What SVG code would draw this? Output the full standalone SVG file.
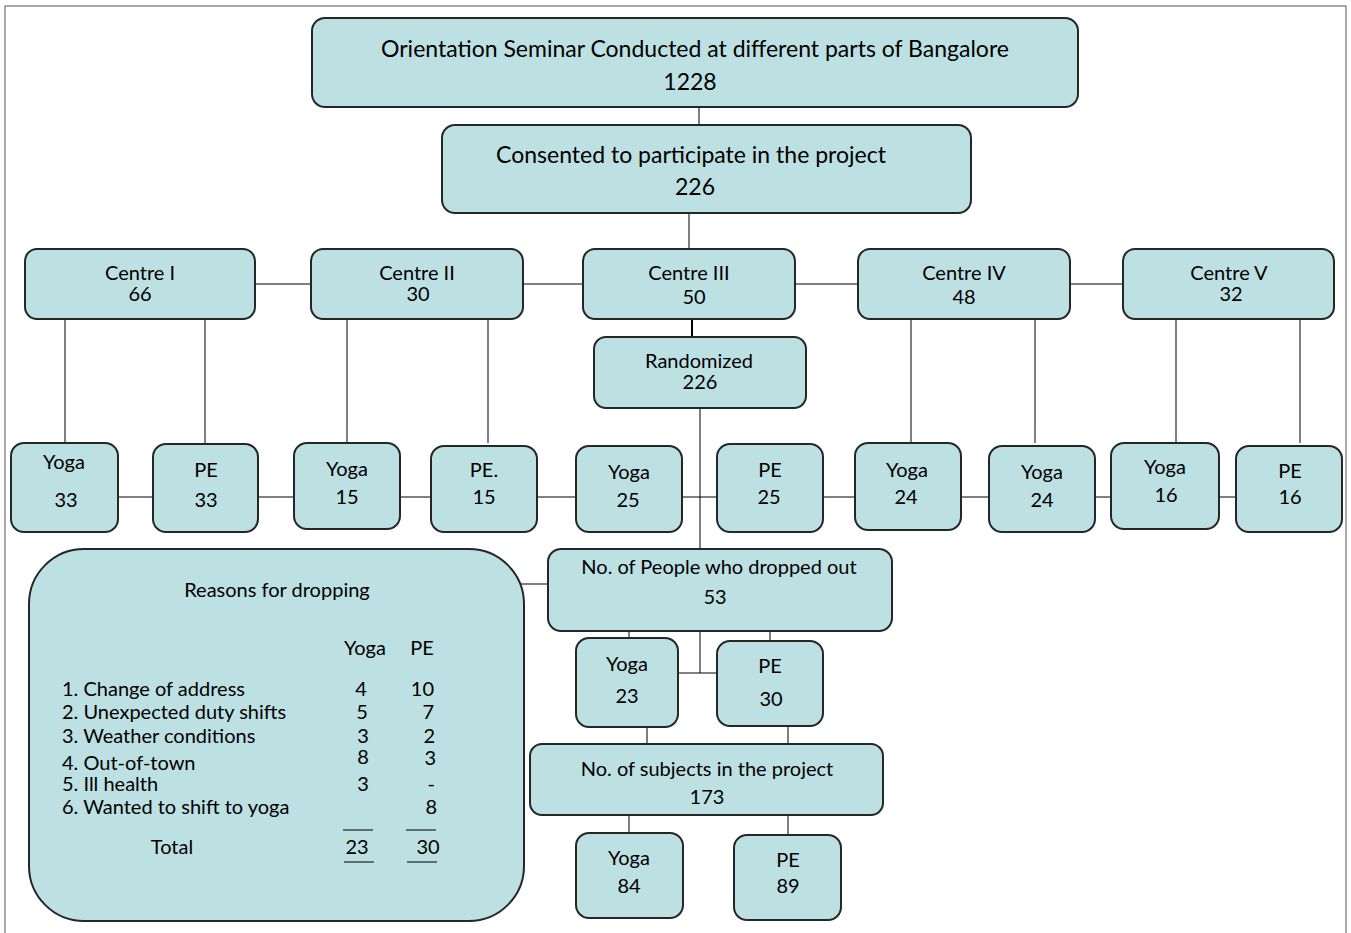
<svg xmlns="http://www.w3.org/2000/svg" width="1351" height="933" viewBox="0 0 1351 933">
<style>
.b{fill:#bde0e3;stroke:#262626;stroke-width:2}
.c{stroke:#000;stroke-width:1;fill:none}
text{font-family:Lato,"Open Sans","Liberation Sans",sans-serif;font-size:20px;fill:#000}
.m{text-anchor:middle}
.e{text-anchor:end}
.L{font-size:23px}
</style>
<rect x="5" y="6" width="1341" height="940" fill="#fff" stroke="#555" stroke-width="1"/>
<g id="connectors" class="c">
<path d="M699 107V125M689 213V249"/>
<path d="M255 284H311M523 284H583M795 284H858M1070 284H1123"/>
<path d="M65 319V443M205 319V444M347 319V443M488 319V443M911 319V443M1035 319V443M1176 319V443M1300 319V443"/>
<path d="M692 319V337" stroke-width="2"/>
<path d="M700 408V549"/>
<path d="M118 497H153M258 497H294M400 497H431M537 497H576M682 497H717M823 497H855M961 497H989M1095 497H1111M1219 497H1236"/>
<path d="M520 584H548"/>
<path d="M629 631V638M770 631V641M700 631V673M678 673H717"/>
<path d="M647 727V744M788 726V744"/>
<path d="M629 815V833M788 815V835"/>
</g>
<g id="n-orientation"><rect class="b" x="312" y="18" width="766" height="89" rx="13"/><text class="m L" x="695" y="57">Orientation Seminar Conducted at different parts of Bangalore</text><text class="m L" x="690" y="90">1228</text></g>
<g id="n-consented"><rect class="b" x="442" y="125" width="529" height="88" rx="13"/><text class="m L" x="691" y="163">Consented to participate in the project</text><text class="m L" x="695" y="195">226</text></g>
<g id="n-c1"><rect class="b" x="25" y="249" width="230" height="70" rx="12"/><text class="m" x="140" y="280">Centre I</text><text class="m" x="140" y="301">66</text></g>
<g id="n-c2"><rect class="b" x="311" y="249" width="212" height="70" rx="12"/><text class="m" x="417" y="280">Centre II</text><text class="m" x="418" y="301">30</text></g>
<g id="n-c3"><rect class="b" x="583" y="249" width="212" height="70" rx="12"/><text class="m" x="689" y="280">Centre III</text><text class="m" x="694" y="304">50</text></g>
<g id="n-c4"><rect class="b" x="858" y="249" width="212" height="70" rx="12"/><text class="m" x="964" y="280">Centre IV</text><text class="m" x="964" y="304">48</text></g>
<g id="n-c5"><rect class="b" x="1123" y="249" width="211" height="70" rx="12"/><text class="m" x="1229" y="280">Centre V</text><text class="m" x="1231" y="301">32</text></g>
<g id="n-rand"><rect class="b" x="594" y="337" width="212" height="71" rx="12"/><text class="m" x="699" y="368">Randomized</text><text class="m" x="700" y="389">226</text></g>
<g id="n-y33"><rect class="b" x="11" y="443" width="107" height="89" rx="13"/><text class="m" x="64" y="469">Yoga</text><text class="m" x="66" y="507">33</text></g>
<g id="n-p33"><rect class="b" x="153" y="444" width="105" height="88" rx="13"/><text class="m" x="206" y="477">PE</text><text class="m" x="206" y="507">33</text></g>
<g id="n-y15"><rect class="b" x="294" y="443" width="106" height="86" rx="13"/><text class="m" x="347" y="476">Yoga</text><text class="m" x="347" y="504">15</text></g>
<g id="n-p15"><rect class="b" x="431" y="446" width="106" height="86" rx="13"/><text class="m" x="484" y="477">PE.</text><text class="m" x="484" y="504">15</text></g>
<g id="n-y25"><rect class="b" x="576" y="446" width="106" height="86" rx="13"/><text class="m" x="629" y="479">Yoga</text><text class="m" x="628" y="507">25</text></g>
<g id="n-p25"><rect class="b" x="717" y="444" width="106" height="88" rx="13"/><text class="m" x="770" y="477">PE</text><text class="m" x="769" y="504">25</text></g>
<g id="n-y24a"><rect class="b" x="855" y="443" width="106" height="87" rx="13"/><text class="m" x="907" y="477">Yoga</text><text class="m" x="906" y="504">24</text></g>
<g id="n-y24b"><rect class="b" x="989" y="446" width="106" height="86" rx="13"/><text class="m" x="1042" y="479">Yoga</text><text class="m" x="1042" y="507">24</text></g>
<g id="n-y16"><rect class="b" x="1111" y="443" width="108" height="86" rx="13"/><text class="m" x="1165" y="474">Yoga</text><text class="m" x="1166" y="502">16</text></g>
<g id="n-p16"><rect class="b" x="1236" y="446" width="106" height="86" rx="13"/><text class="m" x="1290" y="478">PE</text><text class="m" x="1290" y="504">16</text></g>
<g id="n-reasons"><rect class="b" x="29" y="549" width="495" height="372" rx="55"/>
<text class="m" x="277" y="597">Reasons for dropping</text>
<text class="m" x="365" y="655">Yoga</text><text class="m" x="422" y="655">PE</text>
<text x="62" y="696">1. Change of address</text>
<text x="62" y="719">2. Unexpected duty shifts</text>
<text x="62" y="743">3. Weather conditions</text>
<text x="62" y="770">4. Out-of-town</text>
<text x="62" y="791">5. Ill health</text>
<text x="62" y="814">6. Wanted to shift to yoga</text>
<text class="m" x="361" y="696">4</text><text class="m" x="362" y="719">5</text><text class="m" x="363" y="743">3</text><text class="m" x="363" y="764">8</text><text class="m" x="363" y="791">3</text>
<text class="e" x="434" y="696">10</text><text class="e" x="434" y="719">7</text><text class="e" x="435" y="743">2</text><text class="e" x="436" y="765">3</text><text class="e" x="435" y="791">-</text><text class="e" x="437" y="814">8</text>
<path class="c" d="M343 830H373M406 830H436M344 862H374M407 862H437"/>
<text class="m" x="172" y="854">Total</text><text class="m" x="357" y="854">23</text><text class="m" x="428" y="854">30</text>
</g>
<g id="n-dropped"><rect class="b" x="548" y="549" width="344" height="82" rx="13"/><text class="m" x="719" y="574">No. of People who dropped out</text><text class="m" x="715" y="604">53</text></g>
<g id="n-y23"><rect class="b" x="576" y="638" width="102" height="89" rx="13"/><text class="m" x="627" y="671">Yoga</text><text class="m" x="627" y="703">23</text></g>
<g id="n-p30"><rect class="b" x="717" y="641" width="106" height="85" rx="13"/><text class="m" x="770" y="673">PE</text><text class="m" x="771" y="706">30</text></g>
<g id="n-subjects"><rect class="b" x="530" y="744" width="353" height="71" rx="12"/><text class="m" x="707" y="776">No. of subjects in the project</text><text class="m" x="707" y="804">173</text></g>
<g id="n-y84"><rect class="b" x="576" y="833" width="107" height="85" rx="13"/><text class="m" x="629" y="865">Yoga</text><text class="m" x="629" y="893">84</text></g>
<g id="n-p89"><rect class="b" x="734" y="835" width="107" height="85" rx="13"/><text class="m" x="788" y="867">PE</text><text class="m" x="788" y="893">89</text></g>
</svg>
